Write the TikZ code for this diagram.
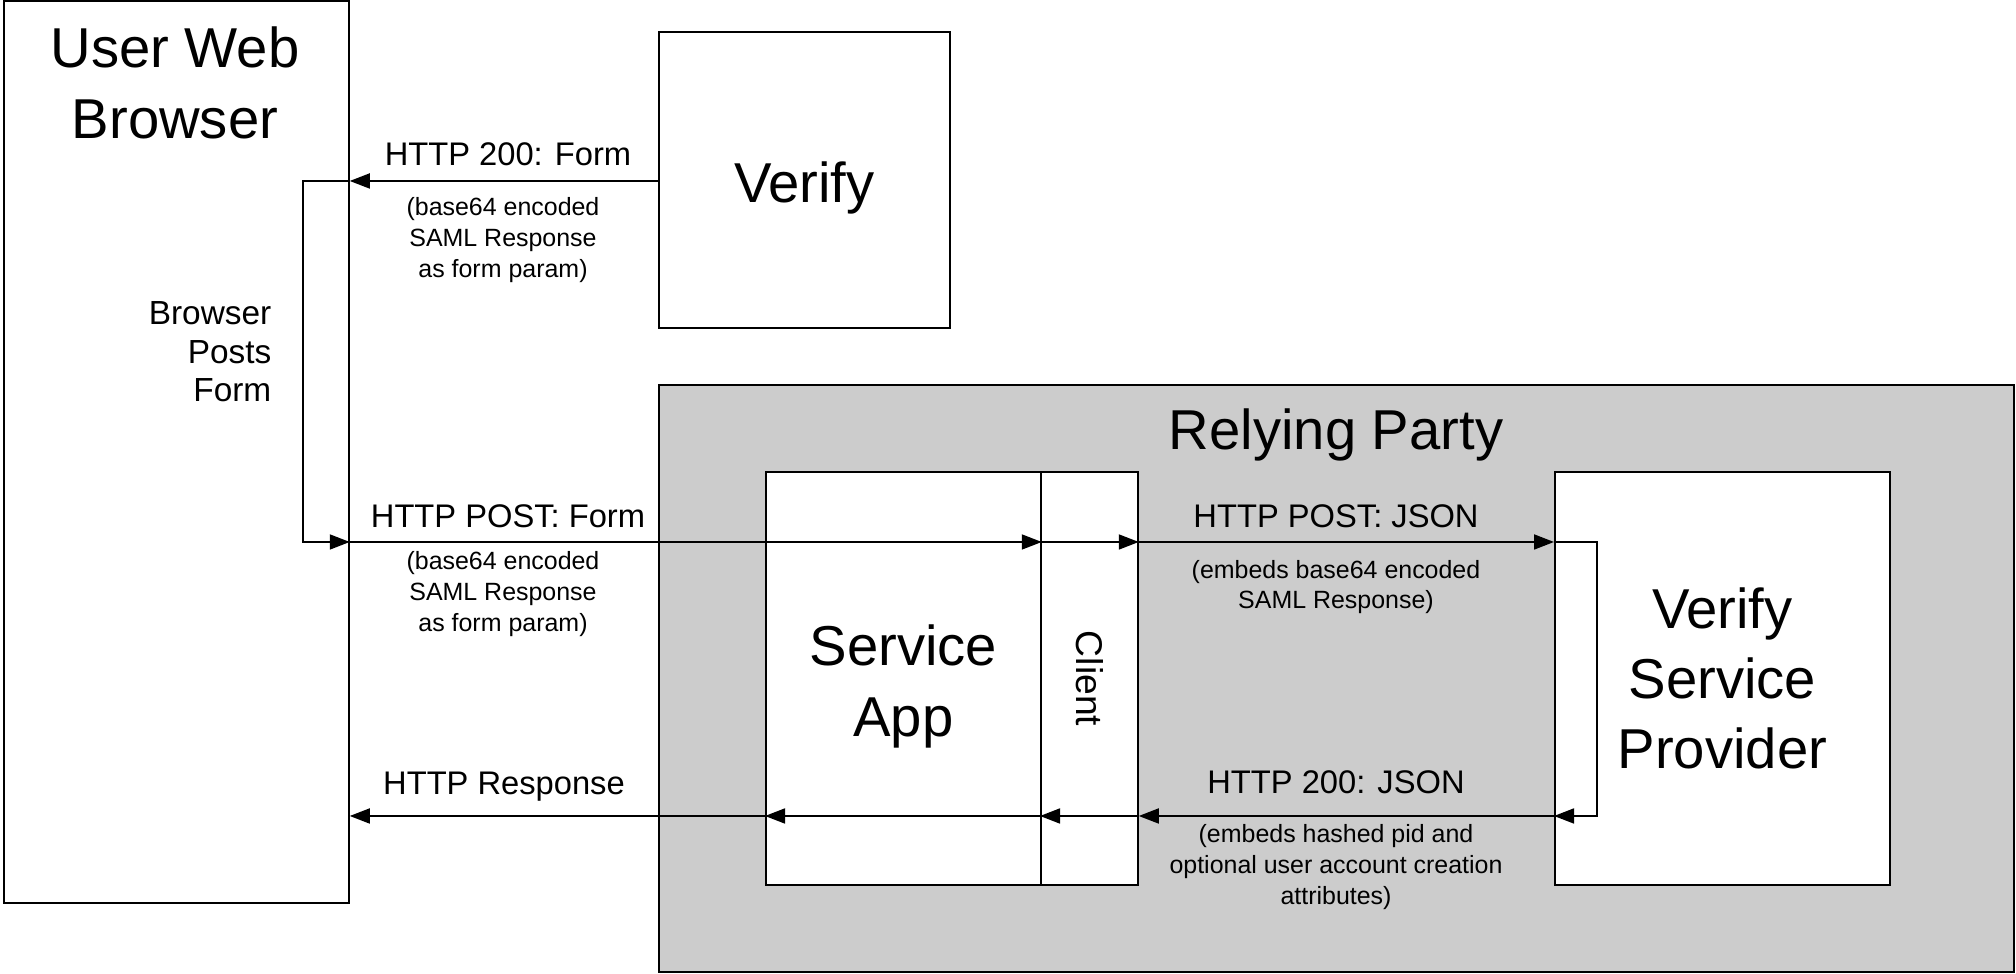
\documentclass[tikz,border=0pt]{standalone}
\usepackage{fontspec}
\setmainfont{Liberation Sans}
\usetikzlibrary{arrows.meta,positioning}

\definecolor{rpgrey}{HTML}{CCCCCC}

\tikzset{
    box/.style={draw, line width=0.5pt, fill=white, inner sep=0pt, anchor=south west},
    flow/.style={line width=0.5pt, -{Triangle[length=0.2cm,width=0.15cm]}},
    big/.style={font=\fontsize{16}{20}\selectfont, align=center},
    mid/.style={font=\fontsize{9.3}{11}\selectfont, align=center},
    note/.style={font=\fontsize{7.1}{8.7}\selectfont, align=center},
}

\begin{document}
\begin{tikzpicture}

\useasboundingbox (0,0) rectangle (20.16,9.74);

% boxes
\node[box, minimum width=3.45cm, minimum height=9.02cm] (browser) at (0.03,0.70) {};
\node[box, minimum width=2.91cm, minimum height=2.96cm] (verify) at (6.58,6.45) {};
\node[box, fill=rpgrey, minimum width=13.55cm, minimum height=5.87cm] (rp) at (6.58,0.01) {};
\node[box, minimum width=2.75cm, minimum height=4.13cm] (app) at (7.65,0.88) {};
\node[box, minimum width=0.97cm, minimum height=4.13cm] (client) at (10.40,0.88) {};
\node[box, minimum width=3.35cm, minimum height=4.13cm, big] (vsp) at (15.54,0.88) {Verify\\Service\\Provider};

\node[big] (browsertitle) at (1.75,8.91) {User Web\\Browser};
\node[big] (verifytitle) at ([yshift=-0.08cm]verify.center) {Verify};
\node[big] (rptitle) at (13.36,5.39) {Relying Party};
\node[big] (apptitle) at ([yshift=-0.08cm]app.center) {Service\\App};
\node[font=\fontsize{10.6}{12}\selectfont, rotate=-90] (clienttitle) at (client.center) {Client};

% rows of the messages
\coordinate (formrow) at (0,7.93);
\coordinate (postrow) at (0,4.32);
\coordinate (resprow) at (0,1.58);
\coordinate (loopl) at (3.03,0);
\coordinate (loopr) at (15.97,0);

\draw[flow] (verify.west |- formrow) -- (browser.east |- formrow);
\draw[flow] (browser.east |- formrow) -| (loopl |- postrow) -- (browser.east |- postrow);

\draw[flow] (browser.east |- postrow) -- (app.east |- postrow);
\draw[flow] (app.east |- postrow) -- (client.east |- postrow);
\draw[flow] (client.east |- postrow) -- (vsp.west |- postrow);
\draw[flow] (vsp.west |- postrow) -| (loopr |- resprow) -- (vsp.west |- resprow);

\draw[flow] (vsp.west |- resprow) -- (client.east |- resprow);
\draw[flow] (client.east |- resprow) -- (client.west |- resprow);
\draw[flow] (app.east |- resprow) -- (app.west |- resprow);
\draw[flow] (app.west |- resprow) -- (browser.east |- resprow);

% labels
\node[mid] (formlbl) at (5.08,8.20) {HTTP 200: Form};
\node[note] (formnote) at (5.03,7.34) {(base64 encoded\\SAML Response\\as form param)};
\node[font=\fontsize{9.5}{11}\selectfont, align=right, anchor=east, inner sep=0pt] (postslbl) at (2.72,6.22) {Browser\\Posts\\Form};
\node[mid] (postlbl) at (5.08,4.58) {HTTP POST: Form};
\node[note] (postnote) at (5.03,3.80) {(base64 encoded\\SAML Response\\as form param)};
\node[mid] (jsonlbl) at (13.36,4.58) {HTTP POST: JSON};
\node[note] (jsonnote) at (13.36,3.87) {(embeds base64 encoded\\SAML Response)};
\node[mid] (okjsonlbl) at (13.36,1.92) {HTTP 200: JSON};
\node[note] (okjsonnote) at (13.36,1.07) {(embeds hashed pid and\\optional user account creation\\attributes)};
\node[mid] (resplbl) at (5.04,1.87) {HTTP Response};

\end{tikzpicture}
\end{document}
